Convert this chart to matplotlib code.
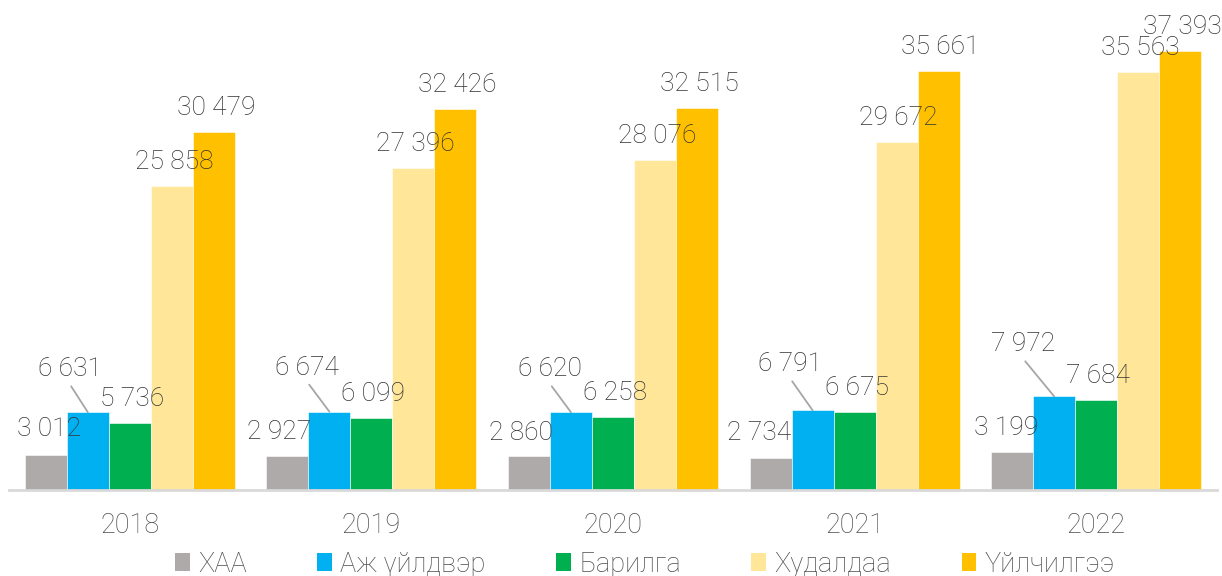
import numpy as np
import matplotlib
matplotlib.use('Agg')
from matplotlib import pyplot as plt
from matplotlib.patches import Patch

# Data
years = ['2018', '2019', '2020', '2021', '2022']
series = ['ХАА', 'Аж үйлдвэр', 'Барилга', 'Худалдаа', 'Үйлчилгээ']
xaa = [3012, 2927, 2860, 2734, 3199]
industry = [6631, 6674, 6620, 6791, 7972]
construction = [5736, 6099, 6258, 6675, 7684]
trade = [25858, 27396, 28076, 29672, 35563]
services = [30479, 32426, 32515, 35661, 37393]
values = [xaa, industry, construction, trade, services]

colors = ['#AEAAAA', '#00B0F0', '#00B050', '#FFE699', '#FFC000']

# label offsets in pixels (text baseline relative to bar top)
label_offsets = [
    [(3, 19), (-8, 17), (-8, 16), (-11, 18), (-6, 17)],
    [(-18, 36), (-22, 37), (-21, 36), (-22, 39), (-31, 45)],
    [(2, 17)] * 5,
    [(2, 17)] * 5,
    [(2, 17)] * 5,
]
leader = [False, True, False, False, False]

plt.rcParams['font.family'] = ['Roboto', 'DejaVu Sans']

fig = plt.figure(figsize=(12.22, 5.76), dpi=100)
ax = fig.add_axes([9 / 1222, 86 / 576, 1208 / 1222, 490 / 576])

x = np.arange(len(years))
width = 0.174

for i, (vals, col) in enumerate(zip(values, colors)):
    pos = x + (i - 2) * width
    ax.bar(pos, vals, width, color=col, edgecolor='white', linewidth=0.4)
    for j, (px, v) in enumerate(zip(pos, vals)):
        dx, dy = label_offsets[i][j]
        label = f'{v:,}'.replace(',', ' ')
        arrow = None
        if leader[i]:
            arrow = dict(arrowstyle='-', color='#A6A6A6', lw=1.3,
                         relpos=(0.47, 0), shrinkA=2, shrinkB=0)
        ax.annotate(label, xy=(px, v), xytext=(dx, dy),
                    textcoords='offset pixels', ha='center', va='baseline',
                    fontsize=19, fontweight='light', color='#333333',
                    arrowprops=arrow)

ax.set_xlim(-0.5, 4.5)
ax.set_ylim(0, 41737)
ax.set_xticks(x)
ax.set_xticklabels(years, fontsize=19.5, fontweight='light', color='#4D4D4D')
ax.tick_params(axis='x', length=0, pad=16)
ax.set_yticks([])
for s in ['top', 'right', 'left']:
    ax.spines[s].set_visible(False)
ax.spines['bottom'].set_color('#D9D9D9')
ax.spines['bottom'].set_linewidth(2)

handles = [Patch(facecolor=c, edgecolor='none') for c in colors]
leg = fig.legend(handles, series, loc='center', bbox_to_anchor=(645 / 1222, 12 / 576),
                 ncol=5, frameon=False, handlelength=0.55, handleheight=0.6,
                 handletextpad=0.3, columnspacing=2.6,
                 prop={'size': 19.5, 'weight': 'light'})
for t in leg.get_texts():
    t.set_color('#4D4D4D')

fig.savefig('out.png', dpi=100)
